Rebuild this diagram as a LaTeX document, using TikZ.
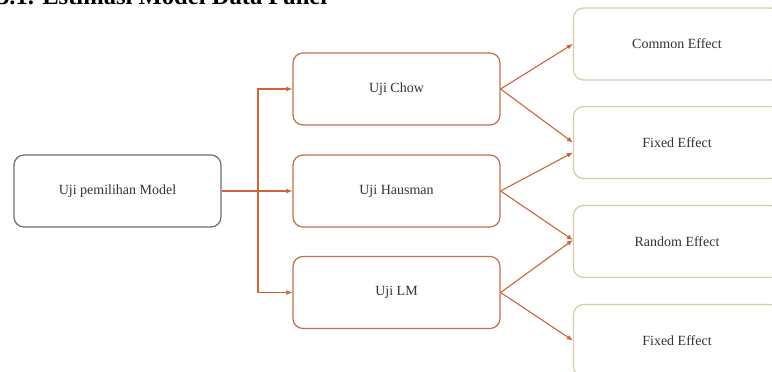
\documentclass[tikz,border=0pt]{standalone}
\usepackage{fontspec}
\setmainfont{Liberation Serif}
\usetikzlibrary{arrows.meta,calc}
\definecolor{arr}{HTML}{D0633A}
\definecolor{midb}{HTML}{C0704C}
\definecolor{rgtb}{HTML}{D8CBAA}
\definecolor{lftb}{HTML}{6E6E6E}
\definecolor{txt}{HTML}{333333}
\begin{document}
\begin{tikzpicture}[x=1pt,y=-1pt,
 box/.style={rounded corners=10pt, minimum width=207pt, minimum height=72pt, line width=1.2pt, text=txt, font=\fontsize{14}{16}\selectfont, inner sep=0pt},
 lbox/.style={box, draw=lftb},
 mbox/.style={box, draw=midb},
 rbox/.style={box, draw=rgtb},
 conn/.style={draw=arr, line width=1.1pt, -{Latex[length=6pt,width=5pt]}}]
\useasboundingbox (0,0) rectangle (772,372);
\node[anchor=base west, inner sep=0pt, font=\bfseries\fontsize{24.6}{28}\selectfont] (title) at (-3,5) {3.1. Estimasi Model Data Panel};
\node[lbox] (pm) at (117.5,191) {Uji pemilihan Model};
\node[mbox] (chow) at (396.5,89) {Uji Chow};
\node[mbox] (haus) at (396.5,191) {Uji Hausman};
\node[mbox] (lm) at (396.5,292.5) {Uji LM};
\node[rbox] (ce) at (677,44) {Common Effect};
\node[rbox] (fe1) at (677,142.5) {Fixed Effect};
\node[rbox] (re) at (677,241.5) {Random Effect};
\node[rbox] (fe2) at (677,340.5) {Fixed Effect};
\coordinate (j) at (258,191);
\draw[conn] (pm.east) -- (haus.west);
\draw[conn] (j) |- (chow.west);
\draw[conn] (j) |- (lm.west);
\draw[conn] (chow.east) -- (ce.west);
\draw[conn] (chow.east) -- (fe1.west);
\draw[conn] (haus.east) -- ($(fe1.west)+(0,10)$);
\draw[conn] (haus.east) -- ($(re.west)+(0,-1.5)$);
\draw[conn] (lm.east) -- ($(re.west)+(0,-1.5)$);
\draw[conn] (lm.east) -- (fe2.west);
\end{tikzpicture}
\end{document}
